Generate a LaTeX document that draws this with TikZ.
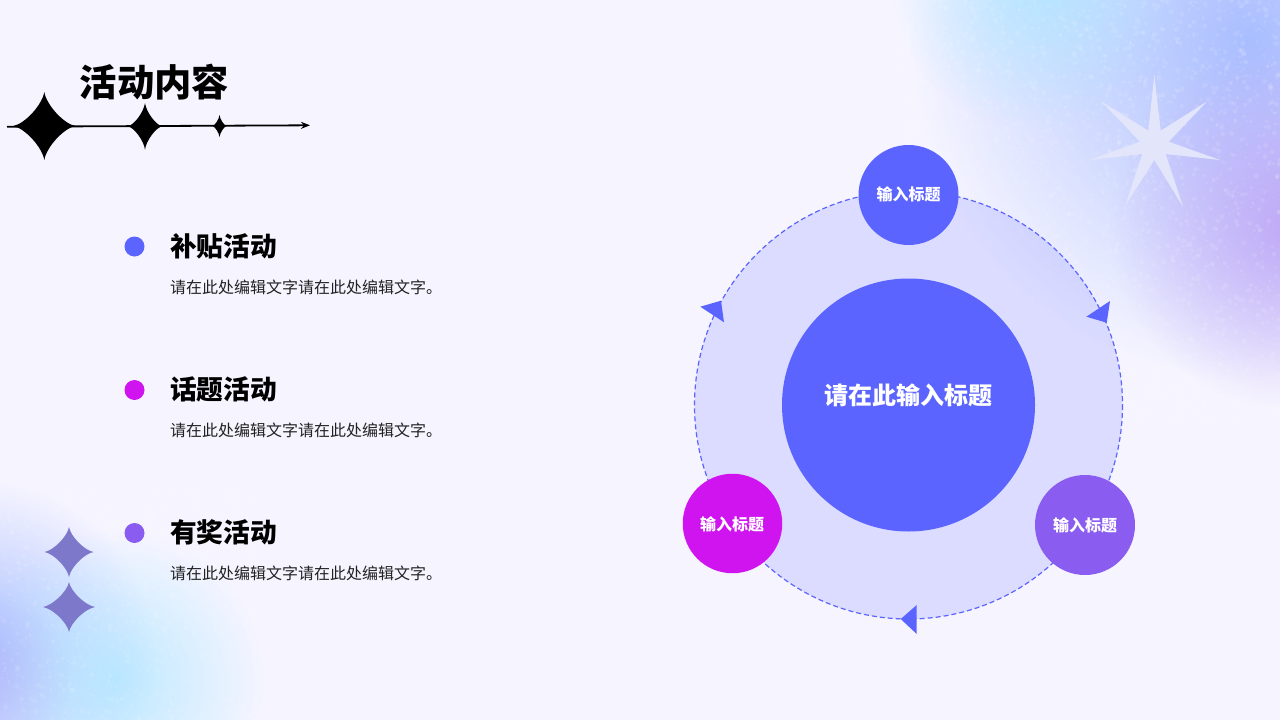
\documentclass[tikz,border=0pt]{standalone}
\usepackage{fontspec}
\setmainfont{Noto Sans CJK SC}
\usetikzlibrary{arrows.meta,fadings}
\definecolor{bgc}{HTML}{F6F5FF}
\definecolor{mainblue}{HTML}{5B64FF}
\definecolor{magentac}{HTML}{D014F0}
\definecolor{violetc}{HTML}{8B5CF0}
\definecolor{textc}{HTML}{222222}
\definecolor{cyanb}{HTML}{AEE6FF}
\definecolor{blueb}{HTML}{A9BEFF}
\definecolor{purpleb}{HTML}{BC9FF5}
\definecolor{starc}{HTML}{7D78CA}
\definecolor{burstc}{HTML}{E3E6FA}
\tikzfading[name=softblob, inner color=transparent!0, outer color=transparent!100]
\tikzset{
  dotc/.style={circle,minimum size=20pt,inner sep=0pt,fill=#1},
  hub/.style={circle,minimum size=#1,inner sep=0pt},
  smalltxt/.style={inner sep=0pt,text=white,font=\fontsize{16}{16}\selectfont\bfseries},
  headtxt/.style={inner sep=0pt,anchor=west,text=black,font=\fontsize{26.7}{26.7}\selectfont\bfseries},
  bodytxt/.style={inner sep=0pt,anchor=west,text=textc,font=\fontsize{16}{16}\selectfont},
  tri/.style={fill=mainblue,draw=none}
}
% blob: colour, x, y, fade radius, opacity
\newcommand{\softblob}[5]{\fill[#1,opacity=#5,path fading=softblob] (#2,#3) circle[radius=#4];}
% four-point star: x, y, half width, half height
\newcommand{\fourstar}[4]{%
  (#1,#2-#4) .. controls (#1+0.07*#3,#2-0.62*#4) and (#1+0.62*#3,#2-0.07*#4) .. (#1+#3,#2)
  .. controls (#1+0.62*#3,#2+0.07*#4) and (#1+0.07*#3,#2+0.62*#4) .. (#1,#2+#4)
  .. controls (#1-0.07*#3,#2+0.62*#4) and (#1-0.62*#3,#2+0.07*#4) .. (#1-#3,#2)
  .. controls (#1-0.62*#3,#2-0.07*#4) and (#1-0.07*#3,#2-0.62*#4) .. cycle}
\begin{document}
\begin{tikzpicture}[x=1pt,y=-1pt]
\useasboundingbox (0,0) rectangle (1280,720);
\fill[bgc] (0,0) rectangle (1280,720);
\begin{scope}
\clip (0,0) rectangle (1280,720);
% top-right glow
\softblob{blueb}{1250}{40}{340}{1}
\softblob{cyanb}{1040}{-20}{150}{.85}
\softblob{purpleb}{1295}{225}{185}{.85}
% bottom-left glow
\softblob{blueb}{-20}{655}{175}{1}
\softblob{cyanb}{115}{680}{150}{.8}
\softblob{purpleb}{-20}{680}{90}{.35}
% grain
\pgfmathsetseed{4242}
\foreach \i in {1,...,2600}{
  \pgfmathsetmacro{\px}{900+380*rnd}
  \pgfmathsetmacro{\py}{420*rnd}
  \pgfmathsetmacro{\pr}{0.8+1.8*rnd}
  \fill[white,opacity=.11] (\px,\py) circle[radius=\pr];
}
\foreach \i in {1,...,900}{
  \pgfmathsetmacro{\px}{260*rnd}
  \pgfmathsetmacro{\py}{490+230*rnd}
  \pgfmathsetmacro{\pr}{0.8+1.6*rnd}
  \fill[white,opacity=.10] (\px,\py) circle[radius=\pr];
}
\end{scope}
% burst
\fill[burstc] (1154.3,75) -- (1160.7,130.7) -- (1206.7,101.7) -- (1168.7,141.7) -- (1220,160) -- (1165.7,154) -- (1183,206.7) -- (1154.3,160) -- (1125,206) -- (1142.3,154) -- (1089.3,160) -- (1140,141.7) -- (1101.7,101.7) -- (1148.3,130.7) -- cycle;
% bottom-left stars
\fill[starc] \fourstar{69}{552}{24.5}{25};
\fill[starc] \fourstar{69}{607}{26}{25};
% title
\node[inner sep=0pt,anchor=west,text=black,font=\fontsize{37.3}{37.3}\selectfont\bfseries] (title) at (79.5,82) {活动内容};
\coordinate (lineA) at (7,126.7);
\coordinate (lineB) at (310,125.3);
\draw[black,line width=1.8pt,-{Stealth[length=9pt,width=7pt]}] (lineA) -- (lineB);
\fill[black] \fourstar{44.3}{126}{31}{34};
\fill[black] \fourstar{145}{126.3}{17}{23.3};
\fill[black] \fourstar{219.5}{126}{7}{11};
% list
\node[dotc=mainblue] (d1) at (134.5,246.5) {};
\node[headtxt] (h1) at (170,246.5) {补贴活动};
\node[bodytxt] (b1) at (170,287) {请在此处编辑文字请在此处编辑文字。};
\node[dotc=magentac] (d2) at (134.5,390) {};
\node[headtxt] (h2) at (170,389.5) {话题活动};
\node[bodytxt] (b2) at (170,430) {请在此处编辑文字请在此处编辑文字。};
\node[dotc=violetc] (d3) at (134.5,533) {};
\node[headtxt] (h3) at (170,532.5) {有奖活动};
\node[bodytxt] (b3) at (170,573) {请在此处编辑文字请在此处编辑文字。};
% ring
\fill[mainblue,opacity=.17] (908.5,405) circle[radius=214];
\draw[mainblue,line width=1.2pt,dash pattern=on 5pt off 3pt] (908.5,405) circle[radius=214];
\node[hub=253pt,fill=mainblue] (core) at (908.5,405) {};
\node[inner sep=0pt,text=white,font=\fontsize{24}{24}\selectfont\bfseries] (corelabel) at (908.5,395) {请在此输入标题};
\node[hub=100pt,fill=mainblue] (top) at (908.5,195) {};
\node[smalltxt] at (908.5,194.5) {输入标题};
\node[hub=99.5pt,fill=magentac] (left) at (732.5,523.5) {};
\node[smalltxt] at (732,524) {输入标题};
\node[hub=100pt,fill=violetc] (right) at (1085,525) {};
\node[smalltxt] at (1085,525) {输入标题};
% arrow heads on the ring
\fill[tri] (1110,301) -- (1086.3,316.7) -- (1106.7,322.7) -- cycle;
\fill[tri] (700.3,306.7) -- (721,300.7) -- (724,322.3) -- cycle;
\fill[tri] (900.7,619) -- (916.7,605) -- (916.7,634) -- cycle;
\end{tikzpicture}
\end{document}
